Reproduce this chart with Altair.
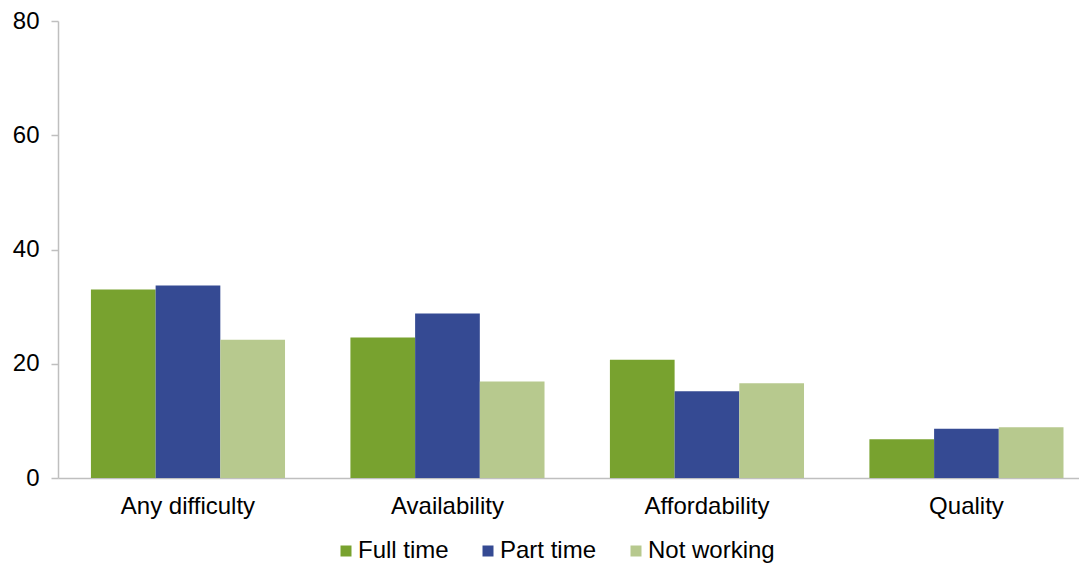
import altair as alt
import pandas as pd

categories = ["Any difficulty", "Availability", "Affordability", "Quality"]
series = ["Full time", "Part time", "Not working"]
full_time = [33.0, 24.6, 20.7, 6.8]
part_time = [33.7, 28.8, 15.2, 8.6]
not_working = [24.2, 16.9, 16.6, 8.9]
colors = ["#78A22F", "#354A93", "#B7C98E"]
y_ticks = [0, 20, 40, 60, 80]

rows = []
for s, vals in zip(series, [full_time, part_time, not_working]):
    for c, v in zip(categories, vals):
        rows.append({"Category": c, "Series": s, "Value": v})
df = pd.DataFrame(rows)

FONT = "Liberation Sans"
FS = 24

chart = alt.Chart(df).mark_bar().encode(
    x=alt.X(
        "Category:N",
        sort=categories,
        scale=alt.Scale(paddingInner=0.252, paddingOuter=0.0933, align=0.68),
        axis=alt.Axis(
            title=None, labelAngle=0, ticks=False, labelPadding=16,
            labelFontSize=FS, labelColor="#000000", labelFont=FONT,
            domainColor="#BFBFBF", domainWidth=1.5,
        ),
    ),
    xOffset=alt.XOffset("Series:N", sort=series),
    y=alt.Y(
        "Value:Q",
        scale=alt.Scale(domain=[0, 80]),
        axis=alt.Axis(
            title=None, values=y_ticks, grid=False, tickSize=7,
            tickColor="#BFBFBF", tickWidth=1.5, labelPadding=12,
            labelFontSize=FS, labelColor="#000000", labelFont=FONT,
            domainColor="#BFBFBF", domainWidth=1.5,
        ),
    ),
    color=alt.Color(
        "Series:N",
        sort=series,
        scale=alt.Scale(domain=series, range=colors),
        legend=alt.Legend(
            title=None, orient="none", direction="horizontal",
            legendX=276, legendY=518,
            symbolType="square", symbolSize=121, symbolStrokeWidth=0,
            labelFontSize=FS, labelFont=FONT, labelColor="#000000",
            labelOffset=0, columnPadding=27,
        ),
    ),
).properties(
    width=1021,
    height=457,
    autosize=alt.AutoSizeParams(type="none"),
    padding={"left": 50, "top": 13, "right": 0, "bottom": 85},
).configure_view(stroke=None)

chart.save("out.html", embed_options={"renderer": "svg", "actions": False})
